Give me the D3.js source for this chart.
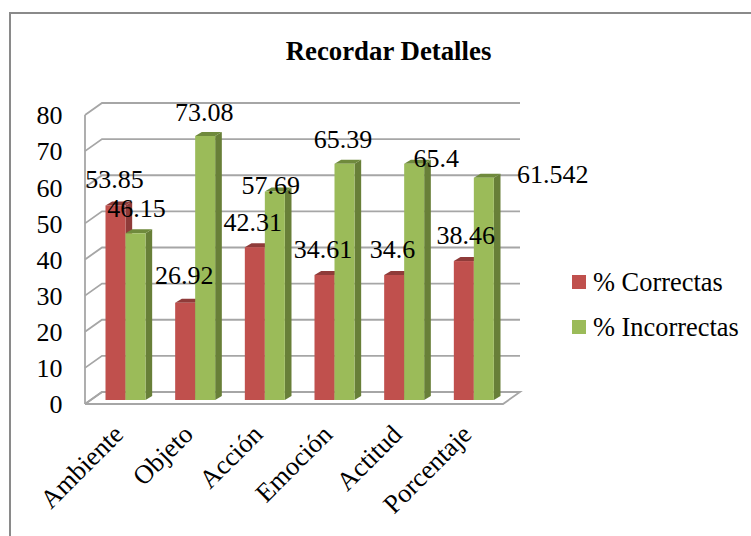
<!DOCTYPE html>
<html>
<head>
<meta charset="utf-8">
<script src="https://cdn.jsdelivr.net/npm/d3@7"></script>
<style>
  html, body { margin: 0; padding: 0; background: #fff; }
  svg { display: block; }
  text { font-family: "Liberation Serif", serif; fill: #000; }
</style>
</head>
<body>
<svg id="chart" width="751" height="536"></svg>
<script>
const categories = ["Ambiente", "Objeto", "Acción", "Emoción", "Actitud", "Porcentaje"];
const correctas = [53.85, 26.92, 42.31, 34.61, 34.6, 38.46];
const incorrectas = [46.15, 73.08, 57.69, 65.39, 65.4, 61.542];
const yTicks = [0, 10, 20, 30, 40, 50, 60, 70, 80];
const seriesNames = ["% Correctas", "% Incorrectas"];

// small nudges so the data labels land where the original put them
const labelNudgeCorrectas = [[-1, -17.5], [-1, -19], [-2, -16], [-1.5, -17], [-1.7, -17], [2, -17]];
const labelNudgeIncorrectas = [[1, -16], [-1, -15], [-4, 2], [-1.5, -16], [22, 3], [69, 5]];

const svg = d3.select("#chart");

// chart frame, only top and left edges show in the original
const frameColor = "#8a8a8a";
svg.append("path")
  .attr("fill", "none").attr("stroke", frameColor).attr("stroke-width", 2)
  .attr("d", d3.line()([[10, 536], [10, 13], [751, 13]]));

// title
svg.append("text")
  .attr("x", 388.5).attr("y", 60)
  .attr("text-anchor", "middle")
  .attr("font-weight", "bold")
  .attr("font-size", 26.8)
  .text("Recordar Detalles");

// scales: front plane of the 3d box, the back wall is shifted by depth
const depthX = 17, depthY = -12;
const xScale = d3.scaleBand().domain(categories).range([85, 503]);
const yScale = d3.scaleLinear().domain([0, 80]).range([404, 115]);
const inner = d3.scaleBand().domain([0, 1]).range([0, 40]);
const barOffset = (xScale.bandwidth() - 40) / 2 + depthX / 3;
const barDx = depthX / 3 + 1, barDy = depthY / 3;
const barY = v => yScale(v) + depthY / 3;

const gridColor = "#a6a6a6";
const grid = svg.append("g")
  .attr("fill", "none").attr("stroke", gridColor).attr("stroke-width", 1.8);

// floor outline
grid.append("path")
  .attr("fill", "#fff")
  .attr("d", d3.line()([
    [xScale.range()[0], yScale(0)],
    [xScale.range()[1], yScale(0)],
    [xScale.range()[1] + depthX, yScale(0) + depthY],
    [xScale.range()[0] + depthX, yScale(0) + depthY],
    [xScale.range()[0], yScale(0)]
  ]));

// left wall edge
grid.append("line")
  .attr("x1", xScale.range()[0]).attr("x2", xScale.range()[0])
  .attr("y1", yScale(0)).attr("y2", yScale(80));

// gridlines on the side wall and back wall
yTicks.forEach(t => {
  grid.append("path").attr("d", d3.line()([
    [xScale.range()[0], yScale(t)],
    [xScale.range()[0] + depthX, yScale(t) + depthY],
    [xScale.range()[1] + depthX, yScale(t) + depthY]
  ]));
});

// y axis labels
const yAxis = d3.axisLeft(yScale).tickValues(yTicks).tickSize(0).tickPadding(0);
svg.append("g")
  .attr("transform", "translate(62.5,0.5)")
  .call(yAxis)
  .call(g => g.select(".domain").remove())
  .selectAll("text")
  .attr("font-size", 26)
  .attr("dy", "0.32em");

// bars drawn as three faces
function drawBars(values, idx, front, top, side) {
  const g = svg.append("g");
  values.forEach((v, i) => {
    const x0 = xScale(categories[i]) + barOffset + inner(idx);
    const x1 = x0 + inner.bandwidth();
    const y0 = barY(0), y1 = barY(v);
    g.append("path").attr("fill", side).attr("d", d3.line()([
      [x1, y0], [x1 + barDx, y0 + barDy], [x1 + barDx, y1 + barDy], [x1, y1]
    ]) + "Z");
    g.append("path").attr("fill", top).attr("d", d3.line()([
      [x0, y1], [x0 + barDx, y1 + barDy], [x1 + barDx, y1 + barDy], [x1, y1]
    ]) + "Z");
    g.append("rect")
      .attr("x", x0).attr("y", y1)
      .attr("width", x1 - x0).attr("height", y0 - y1)
      .attr("fill", front);
  });
}
drawBars(correctas, 0, "#c0504d", "#8f3b39", "#8f3b39");
drawBars(incorrectas, 1, "#9bbb59", "#6f8a3c", "#687f38");

// data labels
function drawLabels(values, idx, nudge) {
  svg.append("g").selectAll("text")
    .data(values)
    .join("text")
    .attr("font-size", 26)
    .attr("text-anchor", "middle")
    .attr("x", (d, i) => xScale(categories[i]) + barOffset + inner(idx) + inner.bandwidth() / 2 + nudge[i][0])
    .attr("y", (d, i) => barY(d) + nudge[i][1])
    .text(d => d);
}
drawLabels(correctas, 0, labelNudgeCorrectas);
drawLabels(incorrectas, 1, labelNudgeIncorrectas);

// category labels
svg.append("g").selectAll("text")
  .data(categories)
  .join("text")
  .attr("font-size", 26.5)
  .attr("text-anchor", "end")
  .attr("transform", d => `translate(${xScale(d) + xScale.bandwidth() / 2 + 5},${yScale(0) + 32}) rotate(-45)`)
  .text(d => d);

// legend
const legend = svg.append("g").selectAll("g")
  .data(seriesNames)
  .join("g")
  .attr("transform", (d, i) => `translate(572,${275 + i * 45})`);
legend.append("rect")
  .attr("width", 14).attr("height", 14)
  .attr("fill", (d, i) => i === 0 ? "#c0504d" : "#9bbb59");
legend.append("text")
  .attr("x", 21).attr("y", 15.5)
  .attr("font-size", 26.4)
  .text(d => d);
</script>
</body>
</html>
